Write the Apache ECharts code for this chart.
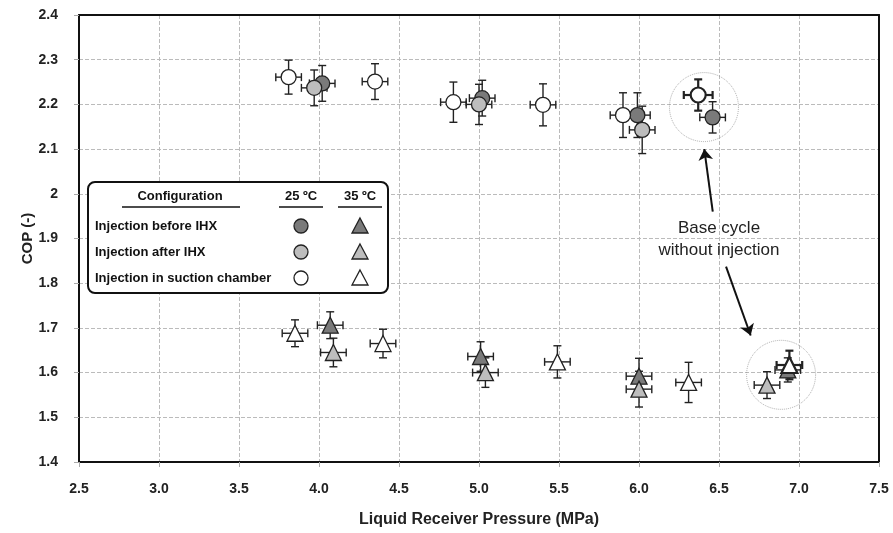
<!DOCTYPE html>
<html>
<head>
<meta charset="utf-8">
<script src="https://cdn.jsdelivr.net/npm/echarts@6/dist/echarts.min.js"></script>
<style>
html, body { margin: 0; padding: 0; background: #fff; }
#container { width: 893px; height: 533px; }
</style>
</head>
<body>
<div id="container"></div>
<script>
// [pressure, COP, xErr, yErr]
var before25 = [[4.02, 2.247, 0.08, 0.04], [5.02, 2.214, 0.08, 0.04], [5.99, 2.176, 0.08, 0.05], [6.46, 2.171, 0.08, 0.035]];
var after25 = [[3.97, 2.237, 0.08, 0.04], [5.00, 2.200, 0.08, 0.045], [6.02, 2.143, 0.08, 0.053]];
var suction25 = [[3.81, 2.261, 0.08, 0.038], [4.35, 2.251, 0.08, 0.04], [4.84, 2.205, 0.08, 0.045], [5.40, 2.199, 0.08, 0.047], [5.90, 2.176, 0.08, 0.05]];
var base25 = [[6.37, 2.221, 0.09, 0.035]];
var before35 = [[4.07, 1.706, 0.08, 0.03], [5.01, 1.636, 0.08, 0.033], [6.00, 1.592, 0.08, 0.04], [6.93, 1.606, 0.08, 0.027]];
var after35 = [[4.09, 1.645, 0.08, 0.032], [5.04, 1.600, 0.08, 0.033], [6.00, 1.563, 0.08, 0.04], [6.80, 1.572, 0.08, 0.03]];
var suction35 = [[3.85, 1.688, 0.08, 0.03], [4.40, 1.665, 0.08, 0.032], [5.49, 1.624, 0.08, 0.036], [6.31, 1.578, 0.08, 0.045]];
var base35 = [[6.94, 1.617, 0.08, 0.032]];

// annotation: dotted circles around the base cycle points, and arrows
var baseRings = [[6.406, 2.194], [6.888, 1.595]];
var arrowUp = [[6.461, 1.960], [6.408, 2.100]];
var arrowDown = [[6.544, 1.837], [6.698, 1.683]];

var rowLabels = ['Injection before IHX', 'Injection after IHX', 'Injection in suction chamber'];
var colLabels = ['25 ºC', '35 ºC'];
var fills = ['#7a7a7a', '#bdbdbd', '#ffffff'];

var font = '"Liberation Sans", Arial, sans-serif';
var dom = document.getElementById("container");
var myChart = echarts.init(dom);

function errBars(data, width) {
	return {
		type: 'custom',
		data: data,
		z: 2,
		silent: true,
		encode: { x: 0, y: 1 },
		renderItem: function(params, api) {
			var x = api.value(0), y = api.value(1), ex = api.value(2), ey = api.value(3);
			var l = api.coord([x - ex, y]), r = api.coord([x + ex, y]);
			var t = api.coord([x, y + ey]), b = api.coord([x, y - ey]);
			var cap = 4;
			var st = { stroke: '#222', lineWidth: width };
			function ln(x1, y1, x2, y2) {
				return { type: 'line', shape: { x1: x1, y1: y1, x2: x2, y2: y2 }, style: st };
			}
			return {
				type: 'group',
				children: [
					ln(l[0], l[1], r[0], r[1]),
					ln(t[0], t[1], b[0], b[1]),
					ln(l[0], l[1] - cap, l[0], l[1] + cap),
					ln(r[0], r[1] - cap, r[0], r[1] + cap),
					ln(t[0] - cap, t[1], t[0] + cap, t[1]),
					ln(b[0] - cap, b[1], b[0] + cap, b[1])
				]
			};
		}
	};
}

function pts(name, data, symbol, fill, bw) {
	return {
		name: name,
		type: 'scatter',
		data: data,
		z: 3,
		symbol: symbol,
		symbolSize: symbol == 'circle' ? 15 : 16,
		itemStyle: { color: fill, borderColor: '#222', borderWidth: bw, opacity: 1 }
	};
}

// legend drawn as a small table
var lx = 88, ly = 182;
var legend = [{
	type: 'rect',
	shape: { x: lx, y: ly, width: 300, height: 111, r: 7 },
	style: { fill: '#fff', stroke: '#111', lineWidth: 2 },
	z: 10
}, {
	type: 'text', x: 180, y: 196, z: 11,
	style: { text: 'Configuration', font: 'bold 13px ' + font, fill: '#111', align: 'center', verticalAlign: 'middle' }
}, {
	type: 'line', z: 11, shape: { x1: 122, y1: 207, x2: 240, y2: 207 }, style: { stroke: '#111', lineWidth: 1.5 }
}];
colLabels.forEach(function(c, i) {
	var cx = 301 + i * 59;
	legend.push({
		type: 'text', x: cx, y: 196, z: 11,
		style: { text: c, font: 'bold 13px ' + font, fill: '#111', align: 'center', verticalAlign: 'middle' }
	});
	legend.push({
		type: 'line', z: 11, shape: { x1: cx - 22, y1: 207, x2: cx + 22, y2: 207 }, style: { stroke: '#111', lineWidth: 1.5 }
	});
});
rowLabels.forEach(function(t, i) {
	var cy = 226 + i * 26;
	legend.push({
		type: 'text', x: 95, y: cy, z: 11,
		style: { text: t, font: 'bold 13px ' + font, fill: '#111', align: 'left', verticalAlign: 'middle' }
	});
	legend.push({
		type: 'circle', z: 11, shape: { cx: 301, cy: cy, r: 7 },
		style: { fill: fills[i], stroke: '#222', lineWidth: 1.3 }
	});
	legend.push({
		type: 'polygon', z: 11, shape: { points: [[360, cy - 8], [368, cy + 7], [352, cy + 7]] },
		style: { fill: fills[i], stroke: '#222', lineWidth: 1.3 }
	});
});
legend.push({
	type: 'text', x: 719, y: 239, z: 11,
	style: { text: 'Base cycle\nwithout injection', font: '17px ' + font, fill: '#222', align: 'center', verticalAlign: 'middle', lineHeight: 22 }
});

var frame = { show: true, lineStyle: { color: '#111', width: 2 } };

var option = {
	animation: false,
	grid: { left: 79, right: 14, top: 15, bottom: 70 },
	xAxis: [{
		type: 'value',
		min: 2.5, max: 7.5, interval: 0.5,
		name: 'Liquid Receiver Pressure (MPa)',
		nameLocation: 'middle',
		nameGap: 50,
		nameMoveOverlap: false,
		nameTextStyle: { fontFamily: font, fontWeight: 'bold', fontSize: 16, color: '#222' },
		axisLine: frame,
		axisTick: { show: true, length: 5, lineStyle: { color: '#aaa' } },
		axisLabel: { margin: 20, fontFamily: font, fontWeight: 'bold', fontSize: 14, color: '#222',
			formatter: function(v) { return v.toFixed(1); } },
		splitLine: { show: true, lineStyle: { color: '#bbb', type: 'dashed' } }
	}, {
		type: 'value', position: 'top',
		min: 2.5, max: 7.5, interval: 0.5,
		axisLine: frame, axisTick: { show: false }, axisLabel: { show: false }, splitLine: { show: false }
	}],
	yAxis: [{
		type: 'value',
		min: 1.4, max: 2.4, interval: 0.1,
		name: 'COP (-)',
		nameLocation: 'middle',
		nameGap: 44,
		nameMoveOverlap: false,
		nameTextStyle: { fontFamily: font, fontWeight: 'bold', fontSize: 15, color: '#222' },
		axisLine: frame,
		axisTick: { show: true, length: 5, lineStyle: { color: '#aaa' } },
		axisLabel: { margin: 21, fontFamily: font, fontWeight: 'bold', fontSize: 14, color: '#222',
			formatter: function(v) { return String(+v.toFixed(1)); } },
		splitLine: { show: true, lineStyle: { color: '#bbb', type: 'dashed' } }
	}, {
		type: 'value', position: 'right',
		min: 1.4, max: 2.4, interval: 0.1,
		axisLine: frame, axisTick: { show: false }, axisLabel: { show: false }, splitLine: { show: false }
	}],
	graphic: legend,
	series: [
		errBars(before25, 1.4), errBars(after25, 1.4), errBars(suction25, 1.4), errBars(base25, 2.2),
		errBars(before35, 1.4), errBars(after35, 1.4), errBars(suction35, 1.4), errBars(base35, 2.2),
		pts('Injection before IHX 25', before25, 'circle', fills[0], 1.3),
		pts('Injection after IHX 25', after25, 'circle', fills[1], 1.3),
		pts('Injection in suction chamber 25', suction25, 'circle', fills[2], 1.3),
		pts('Base cycle 25', base25, 'circle', '#fff', 2.2),
		pts('Injection before IHX 35', before35, 'triangle', fills[0], 1.3),
		pts('Injection after IHX 35', after35, 'triangle', fills[1], 1.3),
		pts('Injection in suction chamber 35', suction35, 'triangle', fills[2], 1.3),
		pts('Base cycle 35', base35, 'triangle', '#fff', 2.2),
		{
			// dotted rings + arrows
			type: 'scatter',
			data: baseRings,
			z: 1,
			silent: true,
			symbol: 'circle',
			symbolSize: 69,
			itemStyle: { color: 'rgba(0,0,0,0)', borderColor: '#999', borderWidth: 1, borderType: 'dotted' },
			markLine: {
				silent: true,
				symbol: ['none', 'arrow'],
				symbolSize: 11,
				label: { show: false },
				lineStyle: { color: '#111', width: 2, type: 'solid' },
				data: [
					[{ coord: arrowUp[0] }, { coord: arrowUp[1] }],
					[{ coord: arrowDown[0] }, { coord: arrowDown[1] }]
				]
			}
		}
	]
};
if (option && typeof option === "object") {
	myChart.setOption(option, true);
}
</script>
</body>
</html>
